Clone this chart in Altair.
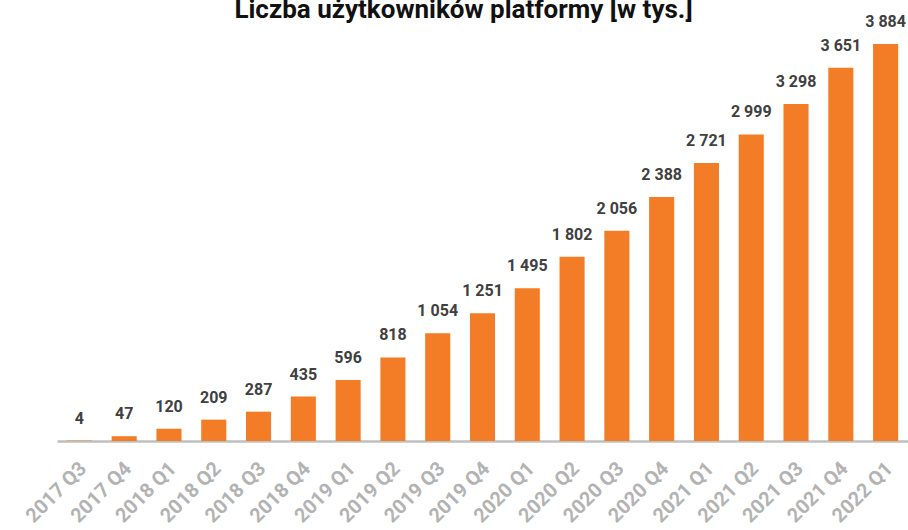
import altair as alt
import pandas as pd

quarters = ["2017 Q3", "2017 Q4", "2018 Q1", "2018 Q2", "2018 Q3", "2018 Q4",
            "2019 Q1", "2019 Q2", "2019 Q3", "2019 Q4", "2020 Q1", "2020 Q2",
            "2020 Q3", "2020 Q4", "2021 Q1", "2021 Q2", "2021 Q3", "2021 Q4",
            "2022 Q1"]
users = [4, 47, 120, 209, 287, 435, 596, 818, 1054, 1251, 1495, 1802,
         2056, 2388, 2721, 2999, 3298, 3651, 3884]
labels = [f"{v:,}".replace(",", " ") for v in users]

df = pd.DataFrame({"q": quarters, "v": users, "lab": labels})

FONT = "Roboto"

base = alt.Chart(df).encode(
    x=alt.X("q:N", sort=quarters, title=None,
            scale=alt.Scale(paddingInner=0.44, paddingOuter=0.22),
            axis=alt.Axis(labelAngle=-45, labelFont=FONT, labelFontSize=20,
                          labelFontWeight="bold", labelColor="#B3B3B3",
                          labelPadding=17, labelOffset=-3, ticks=False,
                          domainColor="#BFBFBF", domainWidth=2.5,
                          labelOverlap=False)),
    y=alt.Y("v:Q", title=None, scale=alt.Scale(nice=False, zero=True),
            axis=None),
)

bars = base.mark_bar(color="#F37C26")
text = base.mark_text(dy=-17, baseline="alphabetic", font=FONT, fontSize=16,
                      fontWeight="bold", color="#404040").encode(text="lab:N")

chart = (bars + text).properties(
    width=851, height=397,
    autosize=alt.AutoSizeParams(type="none"),
    padding={"left": 57, "top": 44, "right": 0, "bottom": 89},
    view=alt.ViewBackground(stroke="transparent", strokeWidth=0),
    title=alt.TitleParams("Liczba użytkowników platformy [w tys.]", font=FONT,
                          fontSize=26, fontWeight="bold", color="#111111",
                          anchor="middle", frame="group", offset=-9, dx=-19),
).configure_view(stroke="transparent", strokeWidth=0).configure(background="white")

chart.save("out.html", embed_options={"renderer": "svg", "actions": False})
